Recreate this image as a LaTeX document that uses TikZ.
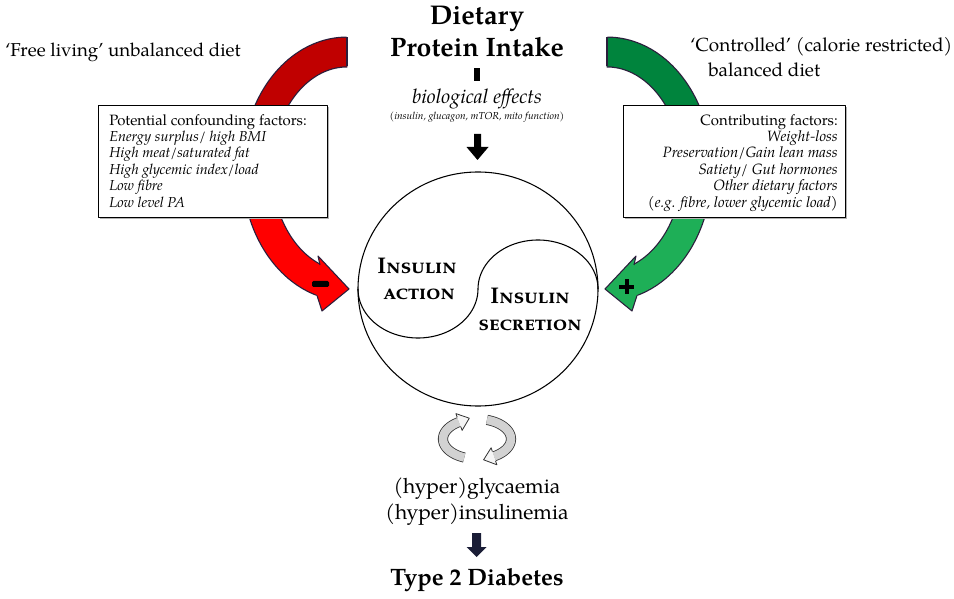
\documentclass[tikz,border=0pt]{standalone}
\usepackage{fontspec}
\setmainfont{TeX Gyre Pagella}
\definecolor{redD}{HTML}{C00000}
\definecolor{redL}{HTML}{FF0000}
\definecolor{grnD}{HTML}{00843D}
\definecolor{grnL}{HTML}{1EAF57}
\definecolor{edgec}{HTML}{2B1E3C}
\definecolor{navyc}{HTML}{1A1D36}
\begin{document}
\begin{tikzpicture}[x=0.75pt,y=-0.75pt,line join=round,
  txt/.style={inner sep=0pt,anchor=base},
  boxc/.style={draw=black,fill=white,line width=0.6pt,inner sep=0pt},
  shaftout/.style={draw=edgec,line width=23.25pt},
  ringout/.style={draw=black!80,line width=7.6pt},
  ringin/.style={draw=gray!35,line width=6.4pt}]
\useasboundingbox (0,0) rectangle (954,599);

% ---------- red curved arrow ----------
\draw[shaftout] plot[domain=270:178,samples=40,smooth] ({347+90*cos(\x)},{169+117*sin(\x)});
\draw[draw=redD,line width=21.4pt] plot[domain=270:178,samples=40,smooth] ({347+90*cos(\x)},{169+117*sin(\x)});
\draw[shaftout] plot[domain=182:106,samples=40,smooth] ({347+90*cos(\x)},{169+117*sin(\x)});
\draw[draw=redL,line width=21.4pt] plot[domain=182:106,samples=40,smooth] ({347+90*cos(\x)},{169+117*sin(\x)});
\draw[edgec,line width=0.8pt] (347,37.5) -- (347,66.5);
\fill[redL] (320,265) -- (318,256) -- (349,289) -- (322,311) -- (317,295.5) -- (312,282) -- cycle;
\draw[edgec,line width=0.8pt] (320,265) -- (318,256) -- (349,289) -- (322,311) -- (317,295.5);
\fill[black,rounded corners=1pt] (312,281) rectangle (329,287);

% ---------- green curved arrow ----------
\draw[shaftout] plot[domain=270:178,samples=40,smooth] ({607-90*cos(\x)},{169+117*sin(\x)});
\draw[draw=grnD,line width=21.4pt] plot[domain=270:178,samples=40,smooth] ({607-90*cos(\x)},{169+117*sin(\x)});
\draw[shaftout] plot[domain=182:106,samples=40,smooth] ({607-90*cos(\x)},{169+117*sin(\x)});
\draw[draw=grnL,line width=21.4pt] plot[domain=182:106,samples=40,smooth] ({607-90*cos(\x)},{169+117*sin(\x)});
\draw[edgec,line width=0.8pt] (607,37.5) -- (607,66.5);
\fill[grnL] (634,265) -- (636,256) -- (605,289) -- (632,311) -- (637,295.5) -- (642,282) -- cycle;
\draw[edgec,line width=0.8pt] (634,265) -- (636,256) -- (605,289) -- (632,311) -- (637,295.5);
\fill[black] (619,285) rectangle (634,289);
\fill[black] (624.5,279.5) rectangle (628.5,294.5);

% ---------- boxes ----------
\fill[gray!60] (100,107) rectangle (329,219);
\node[boxc,minimum width=171.75pt,minimum height=84pt] (lbox) at (212.5,161) {};
\fill[gray!60] (625,107) rectangle (847,219);
\node[boxc,minimum width=166.5pt,minimum height=84pt] (rbox) at (734,161) {};

\node[inner sep=0pt,anchor=north west,align=left,font=\fontsize{10.8}{12.3}\selectfont] (ltext) at (109,114)
 {{\fontsize{11.2}{12.3}\selectfont Potential confounding factors:}\\
  \textit{Energy surplus/ high BMI}\\
  \textit{High meat/saturated fat}\\
  \textit{High glycemic index/load}\\
  \textit{Low fibre}\\
  \textit{Low level PA}};
\node[inner sep=0pt,anchor=north east,align=right,font=\fontsize{11.2}{12.3}\selectfont] (rtext) at (838,114)
 {{\fontsize{11.2}{12.3}\selectfont Contributing factors:}\\
  \textit{Weight-loss}\\
  \textit{Preservation/Gain lean mass}\\
  \textit{Satiety/ Gut hormones}\\
  \textit{Other dietary factors}\\
  \textit{(e.g. fibre, lower glycemic load)}};

% ---------- top texts ----------
\node[txt,font=\fontsize{20.3}{22}\selectfont\bfseries] (diet) at (477,25) {Dietary};
\node[txt,font=\fontsize{20}{22}\selectfont\bfseries] (prot) at (477,57) {Protein Intake};
\fill[black] (474,68) rectangle (479.5,81);
\node[txt,font=\fontsize{15}{17}\selectfont\itshape] (bio) at (477,104) {biological effects};
\node[txt,font=\fontsize{7.6}{9}\selectfont\itshape] (bio2) at (477,120) {(insulin, glucagon, mTOR, mito function)};
\fill[black] (474,134) -- (481,134) -- (481,147) -- (488.5,147) -- (477.5,160) -- (466.5,147) -- (474,147) -- cycle;

\node[txt,anchor=base west,font=\fontsize{14}{16}\selectfont] (free) at (5,57) {‘Free living’ unbalanced diet};
\node[txt,anchor=base west,font=\fontsize{14.2}{16}\selectfont] (ctrl) at (690,52) {‘Controlled’ (calorie restricted)};
\node[txt,anchor=base west,font=\fontsize{14.2}{16}\selectfont] (bal) at (708,77) {balanced diet};

% ---------- yin-yang circle ----------
\draw[line width=0.8pt] (478,289) circle[x radius=120,y radius=117];
\draw[line width=0.8pt] plot[domain=180:0,samples=50,smooth] ({418+60*cos(\x)},{289+49*sin(\x)});
\draw[line width=0.8pt] plot[domain=180:360,samples=50,smooth] ({538+60*cos(\x)},{289+49*sin(\x)});
\node[txt,font=\fontsize{17}{19}\selectfont\bfseries] (ia1) at (417,274) {\textsc{Insulin}};
\node[txt,font=\fontsize{17}{19}\selectfont\bfseries] (ia2) at (419,300) {\textsc{action}};
\node[txt,font=\fontsize{17}{19}\selectfont\bfseries] (is1) at (530,304) {\textsc{Insulin}};
\node[txt,font=\fontsize{17}{19}\selectfont\bfseries] (is2) at (530,330) {\textsc{secretion}};

% ---------- cycle arrows ----------
\draw[ringout] plot[domain=112:238,samples=30,smooth] ({477+34*cos(\x)},{439+20*sin(\x)});
\draw[ringin] plot[domain=112:238,samples=30,smooth] ({477+34*cos(\x)},{439+20*sin(\x)});
\filldraw[fill=gray!8,draw=black!80,line width=0.6pt] (457.2,417.3) -- (455.9,413.6) -- (469.3,418.2) -- (462.1,430.4) -- (460.8,426.7);
\draw[ringout] plot[domain=287:420,samples=30,smooth] ({477+34*cos(\x)},{439+20*sin(\x)});
\draw[ringin] plot[domain=287:420,samples=30,smooth] ({477+34*cos(\x)},{439+20*sin(\x)});
\filldraw[fill=gray!8,draw=black!80,line width=0.6pt] (492.4,451.5) -- (491.1,447.8) -- (483.6,459.8) -- (496.9,464.8) -- (495.6,461.1);

% ---------- bottom ----------
\node[txt,font=\fontsize{15.8}{18}\selectfont] (gly) at (477,493) {(hyper)glycaemia};
\node[txt,font=\fontsize{15.8}{18}\selectfont] (ins) at (477,519) {(hyper)insulinemia};
\fill[navyc] (472,533) -- (481,533) -- (481,547) -- (486.5,547) -- (476.5,557) -- (466.5,547) -- (472,547) -- cycle;
\node[txt,font=\fontsize{17.8}{20}\selectfont\bfseries] (t2d) at (477,585) {Type 2 Diabetes};
\end{tikzpicture}
\end{document}
